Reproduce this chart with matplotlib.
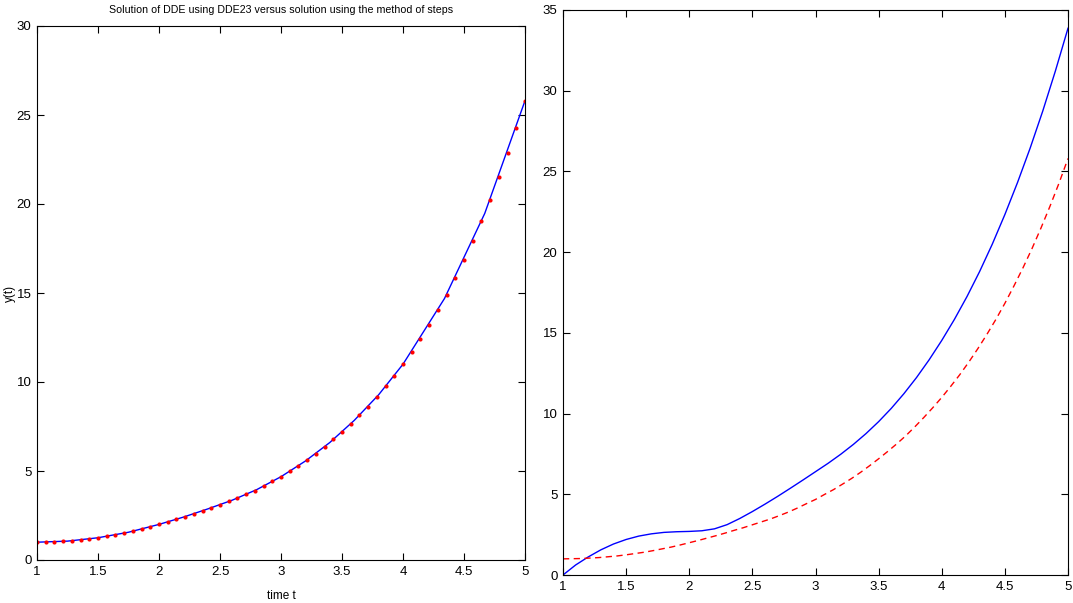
import matplotlib
matplotlib.use("Agg")
import matplotlib.pyplot as plt
from matplotlib.ticker import FuncFormatter, MultipleLocator

plt.rcParams['font.family'] = ['Liberation Sans Narrow', 'Liberation Sans', 'DejaVu Sans']

# Method-of-steps solution, sampled with h = 1/14 on [1, 5]
t_steps = [1 + k / 14 for k in range(57)]
y_steps = [1.00, 1.01, 1.02, 1.05, 1.08, 1.13, 1.18, 1.25, 1.33, 1.41,
           1.51, 1.62, 1.73, 1.86, 2.00, 2.14, 2.29, 2.44, 2.60, 2.77,
           2.93, 3.11, 3.29, 3.47, 3.68, 3.90, 4.15, 4.42, 4.68, 4.99,
           5.29, 5.63, 5.98, 6.36, 6.77, 7.20, 7.65, 8.12, 8.62, 9.17,
           9.75, 10.36, 11.00, 11.69, 12.41, 13.19, 14.02, 14.90, 15.83, 16.83,
           17.90, 19.02, 20.21, 21.49, 22.84, 24.27, 25.80]

# DDE23 output nodes
t_dde = [1.0, 1.25, 1.5, 1.75, 2.0, 2.2, 2.4, 2.6, 2.8, 3.0, 3.2, 3.4,
         3.6, 3.8, 4.0, 4.34, 4.67, 5.0]
y_dde = [1.00, 1.06, 1.25, 1.56, 2.00, 2.41, 2.87, 3.36, 3.95, 4.68, 5.56, 6.60,
         7.84, 9.28, 11.00, 14.69, 19.47, 25.80]

# Second solution shown in the right panel
t_alt = [1.0, 1.1, 1.2, 1.3, 1.4, 1.5, 1.6, 1.7, 1.8, 1.9, 2.0,
         2.1, 2.2, 2.3, 2.4, 2.5, 2.6, 2.7, 2.8, 2.9, 3.0,
         3.1, 3.2, 3.3, 3.4, 3.5, 3.6, 3.7, 3.8, 3.9, 4.0,
         4.1, 4.2, 4.3, 4.4, 4.5, 4.6, 4.7, 4.8, 4.9, 5.0]
y_alt = [0.00, 0.62, 1.12, 1.56, 1.92, 2.20, 2.41, 2.55, 2.64, 2.68, 2.70,
         2.74, 2.86, 3.12, 3.50, 3.93, 4.39, 4.87, 5.37, 5.88, 6.40,
         6.92, 7.48, 8.09, 8.76, 9.50, 10.32, 11.23, 12.23, 13.33, 14.53,
         15.83, 17.25, 18.80, 20.49, 22.33, 24.31, 26.44, 28.74, 31.22, 33.87]

W, H = 1073, 603
fig = plt.figure(figsize=(W / 100, H / 100), dpi=100)

def px_axes(x0, x1, ytop, ybot):
    return fig.add_axes([x0 / W, 1 - ybot / H, (x1 - x0) / W, (ybot - ytop) / H])

ax1 = px_axes(37, 525, 26, 560)
ax2 = px_axes(563, 1068, 10, 575)

fmt = FuncFormatter(lambda v, p: '%g' % v)

def style(ax, ymax, ystep):
    ax.set_xlim(1, 5)
    ax.set_ylim(0, ymax)
    ax.xaxis.set_major_locator(MultipleLocator(0.5))
    ax.yaxis.set_major_locator(MultipleLocator(ystep))
    ax.xaxis.set_major_formatter(fmt)
    ax.yaxis.set_major_formatter(fmt)
    ax.tick_params(direction='in', length=5, width=0.8, top=True, right=True,
                   labelsize=9.5, pad=4, colors='black')
    for s in ax.spines.values():
        s.set_linewidth(0.8)
        s.set_color('black')

ax1.plot(t_dde, y_dde, color='#0000ff', lw=1.0)
ax1.plot(t_steps, y_steps, linestyle='none', marker='o', markersize=3.0,
         markerfacecolor='#ff0000', markeredgecolor='none')
style(ax1, 30, 5)
ax1.text(0.5, 1 + 16 / 534, 'Solution of DDE using DDE23 versus solution using the method of steps',
         transform=ax1.transAxes, ha='center', va='center', fontsize=7.7)
ax1.set_xlabel('time t', fontsize=8.5)
ax1.set_ylabel('y(t)', fontsize=8.5)
ax1.xaxis.set_label_coords(0.5, -30 / 534)
ax1.yaxis.set_label_coords(-21 / 488, 0.5)

ax2.plot(t_alt, y_alt, color='#0000ff', lw=1.0)
ax2.plot(t_steps, y_steps, color='#ff0000', lw=1.0, linestyle=(0, (4.5, 3.2)))
style(ax2, 35, 5)

fig.savefig('out.png', dpi=100)
